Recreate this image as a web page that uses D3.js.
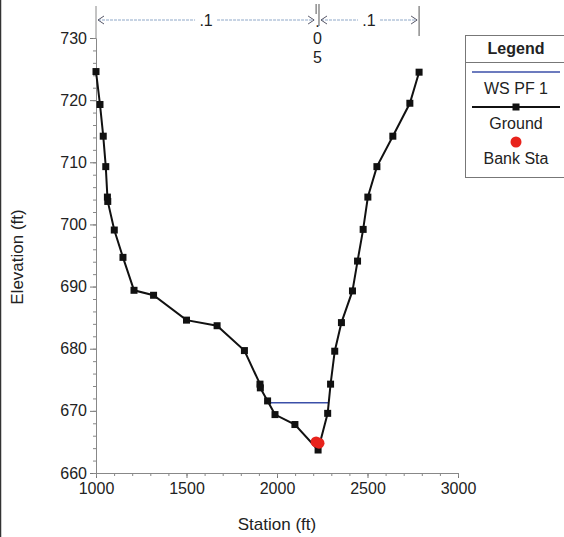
<!DOCTYPE html>
<html>
<head>
<meta charset="utf-8">
<script src="https://cdn.jsdelivr.net/npm/d3@7"></script>
<style>
  body { margin: 0; background: #fff; }
  text { font-family: "Liberation Sans", Arial, sans-serif; fill: #222; }
</style>
</head>
<body>
<script>
// Ground profile
var groundSta = [1000, 1022, 1040, 1054, 1063, 1065, 1101, 1149, 1210, 1318, 1500, 1669, 1820, 1906, 1908, 1948, 1989, 2099, 2227, 2280, 2296, 2319, 2356, 2417, 2445, 2476, 2502, 2552, 2640, 2734, 2785];
var groundElev = [724.6, 719.3, 714.2, 709.3, 704.4, 703.7, 699.1, 694.7, 689.4, 688.6, 684.6, 683.7, 679.7, 674.3, 673.7, 671.6, 669.4, 667.8, 663.7, 669.6, 674.3, 679.6, 684.2, 689.3, 694.1, 699.2, 704.4, 709.3, 714.2, 719.5, 724.5];
// Water surface PF 1
var wsSta = [1950, 2282];
var wsElev = [671.3, 671.3];
// Bank stations
var bankSta = [2216, 2232];
var bankElev = [665.0, 664.8];
// Manning's n regions
var nStart = [1000, 2216, 2232];
var nEnd = [2216, 2232, 2785];
var nLabel = [".1", ".05", ".1"];

var xTicks = [1000, 1500, 2000, 2500, 3000];
var yTicks = [660, 670, 680, 690, 700, 710, 720, 730];

var width = 564, height = 537;

var svg = d3.select("body").append("svg")
    .attr("width", width)
    .attr("height", height);

var x = d3.scaleLinear().domain([1000, 3000]).range([96, 458]);
var y = d3.scaleLinear().domain([660, 730]).range([473, 38]);

// left edge line of the screenshot
svg.append("line").attr("x1", 0.5).attr("x2", 0.5).attr("y1", 0).attr("y2", height)
    .attr("stroke", "#333").attr("stroke-width", 1.5);

// y axis
var yAxis = svg.append("g").attr("transform", "translate(96,0)")
    .call(d3.axisLeft(y).tickValues(yTicks).tickSize(6).tickPadding(3).tickFormat(d3.format("d")));
yAxis.select(".domain").attr("stroke", "#888");
yAxis.selectAll(".tick line").attr("stroke", "#777");
yAxis.selectAll(".tick text").style("font-size", "16px").attr("fill", "#222");

svg.append("g").attr("transform", "translate(96,0)")
    .call(d3.axisLeft(y).ticks(35).tickSize(3).tickFormat(""))
    .call(function (g) { g.select(".domain").remove(); })
    .selectAll("line").attr("stroke", "#888");

// x axis
var xAxis = svg.append("g").attr("transform", "translate(0,473)")
    .call(d3.axisBottom(x).tickValues(xTicks).tickSize(5).tickPadding(5).tickFormat(d3.format("d")));
xAxis.select(".domain").attr("stroke", "#888");
xAxis.selectAll(".tick line").attr("stroke", "#777");
xAxis.selectAll(".tick text").style("font-size", "16px").attr("fill", "#222");

svg.append("g").attr("transform", "translate(0,473)")
    .call(d3.axisBottom(x).ticks(20).tickSize(3).tickFormat(""))
    .call(function (g) { g.select(".domain").remove(); })
    .selectAll("line").attr("stroke", "#888");

// axis titles
svg.append("text")
    .attr("x", 277).attr("y", 530)
    .attr("text-anchor", "middle")
    .style("font-size", "17px")
    .text("Station (ft)");

svg.append("text")
    .attr("transform", "translate(23,257) rotate(-90)")
    .attr("text-anchor", "middle")
    .style("font-size", "17px")
    .text("Elevation (ft)");

// n value markers along the top
svg.append("line")
    .attr("x1", x(1000)).attr("x2", x(1000)).attr("y1", 6).attr("y2", 38)
    .attr("stroke", "#888");
svg.selectAll(".nbound")
    .data(bankSta.concat([2785]))
    .enter().append("line")
    .attr("class", "nbound")
    .attr("x1", function (d) { return x(d); })
    .attr("x2", function (d) { return x(d); })
    .attr("y1", function (d, i) { return i < 2 ? 4 : 6; })
    .attr("y2", function (d, i) { return i == 0 ? 14 : (i == 1 ? 26 : 36); })
    .attr("stroke", "#555");

var nGroups = svg.selectAll(".nreg")
    .data(nLabel.map(function (d, i) { return { label: d, a: nStart[i], b: nEnd[i] }; }))
    .enter().append("g").attr("class", "nreg");

nGroups.filter(function (d) { return d.b - d.a > 100; }).each(function (d) {
    var g = d3.select(this);
    var x0 = x(d.a), x1 = x(d.b), xm = (x0 + x1) / 2;
    g.append("line").attr("x1", x0 + 2).attr("x2", xm - 11).attr("y1", 20).attr("y2", 20)
        .attr("stroke", "#8fa8c8").attr("stroke-dasharray", "3,1");
    g.append("line").attr("x1", xm + 11).attr("x2", x1 - 2).attr("y1", 20).attr("y2", 20)
        .attr("stroke", "#8fa8c8").attr("stroke-dasharray", "3,1");
    g.append("path").attr("d", "M" + (x0 + 8) + ",16 L" + (x0 + 2) + ",20 L" + (x0 + 8) + ",24")
        .attr("fill", "none").attr("stroke", "#556");
    g.append("path").attr("d", "M" + (x1 - 8) + ",16 L" + (x1 - 2) + ",20 L" + (x1 - 8) + ",24")
        .attr("fill", "none").attr("stroke", "#556");
    g.append("text").attr("x", xm).attr("y", 26).attr("text-anchor", "middle")
        .style("font-size", "16px").text(d.label);
});

nGroups.filter(function (d) { return d.b - d.a <= 100; }).each(function (d) {
    var g = d3.select(this);
    var xm = (x(d.a) + x(d.b)) / 2;
    var ys = [27, 44, 63];
    d.label.split("").forEach(function (ch, k) {
        g.append("text").attr("x", xm).attr("y", ys[k])
            .attr("text-anchor", "middle").style("font-size", "16px").text(ch);
    });
});

// water surface
var line = d3.line()
    .x(function (d) { return x(d[0]); })
    .y(function (d) { return y(d[1]); });

svg.append("path")
    .datum(d3.zip(wsSta, wsElev))
    .attr("d", line)
    .attr("fill", "none")
    .attr("stroke", "#3b4fa8")
    .attr("stroke-width", 1.5);

// ground
var ground = d3.zip(groundSta, groundElev);
svg.append("path")
    .datum(ground)
    .attr("d", line)
    .attr("fill", "none")
    .attr("stroke", "#111")
    .attr("stroke-width", 2);

svg.selectAll(".gpt")
    .data(ground)
    .enter().append("rect")
    .attr("class", "gpt")
    .attr("x", function (d) { return x(d[0]) - 3.5; })
    .attr("y", function (d) { return y(d[1]) - 3.5; })
    .attr("width", 7).attr("height", 7)
    .attr("fill", "#111");

// bank stations
svg.selectAll(".bank")
    .data(d3.zip(bankSta, bankElev))
    .enter().append("circle")
    .attr("class", "bank")
    .attr("cx", function (d) { return x(d[0]); })
    .attr("cy", function (d) { return y(d[1]); })
    .attr("r", 5.5)
    .attr("fill", "#e8231c");

// legend
var lg = svg.append("g").attr("transform", "translate(465,35)");
lg.append("rect").attr("x", 0.5).attr("y", 0.5).attr("width", 110).attr("height", 142)
    .attr("fill", "#fff").attr("stroke", "#777");
lg.append("line").attr("x1", 0).attr("x2", 110).attr("y1", 27.5).attr("y2", 27.5).attr("stroke", "#777");
lg.append("text").attr("x", 51).attr("y", 19).attr("text-anchor", "middle")
    .style("font-size", "16px").style("font-weight", "bold").text("Legend");
lg.append("line").attr("x1", 7).attr("x2", 95).attr("y1", 37).attr("y2", 37)
    .attr("stroke", "#3b4fa8").attr("stroke-width", 1.5);
lg.append("text").attr("x", 51).attr("y", 59).attr("text-anchor", "middle")
    .style("font-size", "16px").text("WS PF 1");
lg.append("line").attr("x1", 7).attr("x2", 95).attr("y1", 72).attr("y2", 72)
    .attr("stroke", "#111").attr("stroke-width", 2);
lg.append("rect").attr("x", 47.5).attr("y", 68.5).attr("width", 7).attr("height", 7).attr("fill", "#111");
lg.append("text").attr("x", 51).attr("y", 94).attr("text-anchor", "middle")
    .style("font-size", "16px").text("Ground");
lg.append("circle").attr("cx", 51).attr("cy", 107).attr("r", 5.5).attr("fill", "#e8231c");
lg.append("text").attr("x", 51).attr("y", 129).attr("text-anchor", "middle")
    .style("font-size", "16px").text("Bank Sta");
</script>
</body>
</html>
